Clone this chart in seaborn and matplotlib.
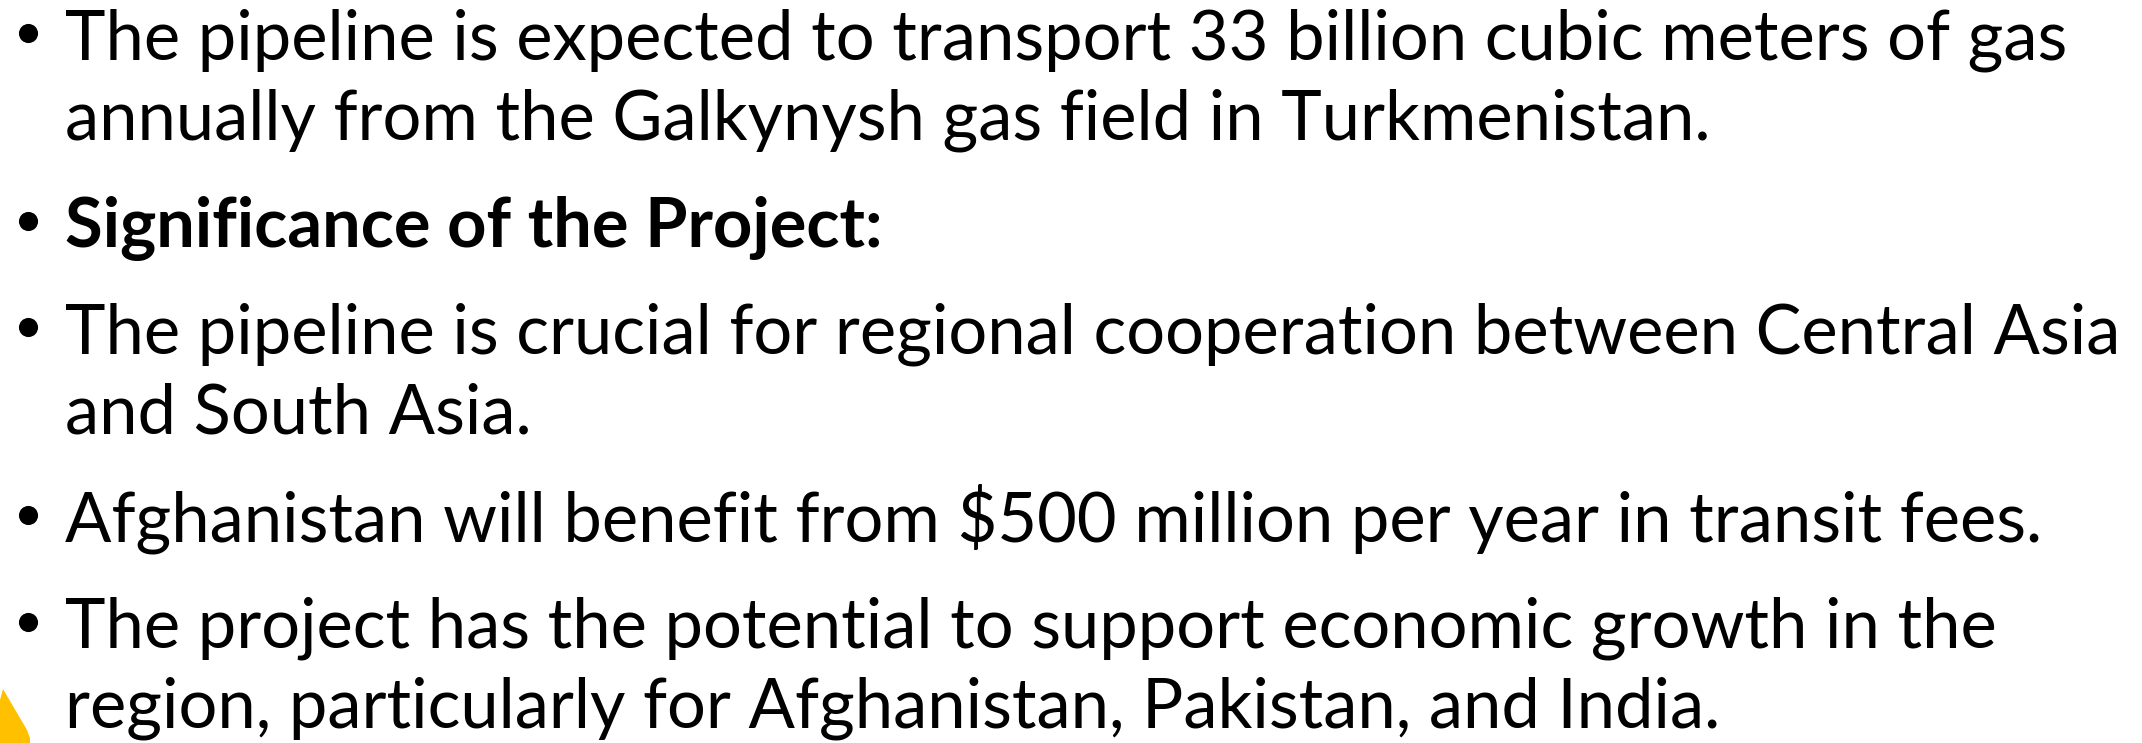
import matplotlib
matplotlib.use("Agg")
import matplotlib.pyplot as plt
import seaborn as sns

sns.set_theme(style="white")
plt.rcParams['font.family'] = ['Lato', 'DejaVu Sans']

# Slide content
lines = [
    "The pipeline is expected to transport 33 billion cubic meters of gas",
    "annually from the Galkynysh gas field in Turkmenistan.",
    "Significance of the Project:",
    "The pipeline is crucial for regional cooperation between Central Asia",
    "and South Asia.",
    "Afghanistan will benefit from $500 million per year in transit fees.",
    "The project has the potential to support economic growth in the",
    "region, particularly for Afghanistan, Pakistan, and India.",
]
has_bullet = [True, False, True, True, False, True, True, False]
is_bold = [False, False, True, False, False, False, False, False]

W, H = 2142, 743
DPI = 100
baselines = [59, 139, 247, 353, 434, 541, 648, 728]
text_x = 65
bullet_x = 28
bullet_rise = 26
target_width = 2000  # width of first line in px

fig = plt.figure(figsize=(W / DPI, H / DPI), dpi=DPI)
ax = fig.add_axes([0, 0, 1, 1])
ax.set_xlim(0, W)
ax.set_ylim(H, 0)
ax.axis("off")
fig.patch.set_facecolor("white")

# fit font size to the first line width
fs = 50
probe = ax.text(text_x, baselines[0], lines[0], fontsize=fs, va="baseline")
fig.canvas.draw()
w = probe.get_window_extent(fig.canvas.get_renderer()).width
fs = fs * target_width / w
probe.remove()

bx, by = [], []
for txt, yb, b, bold in zip(lines, baselines, has_bullet, is_bold):
    ax.text(text_x, yb, txt, fontsize=fs, va="baseline", ha="left",
            fontweight="bold" if bold else "normal", color="black",
            parse_math=False)
    if b:
        bx.append(bullet_x)
        by.append(yb - bullet_rise)

# bullet dots
ax.scatter(bx, by, s=190, color="black", linewidths=0, zorder=3)

# yellow decorative corner shape
ax.fill([0, 0, 3, 27, 30, 30], [743, 700, 689, 730, 738, 743],
        color="#FFC000", lw=0)

fig.savefig("out.png", dpi=DPI, facecolor="white")
